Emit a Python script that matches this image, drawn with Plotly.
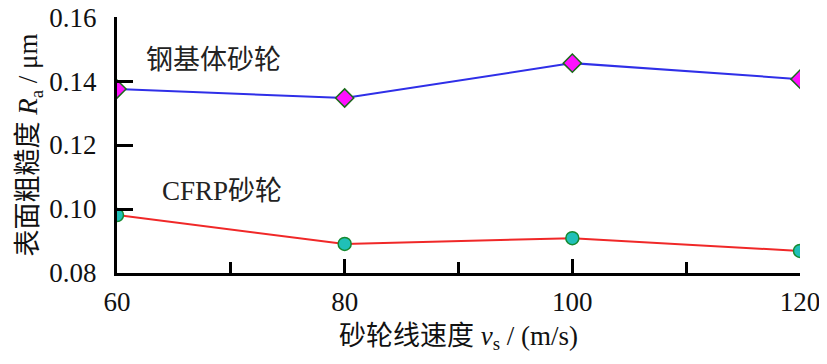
import plotly.graph_objects as go

speeds = [60, 80, 100, 120]
steel_ra = [0.1375, 0.1347, 0.1456, 0.1406]
cfrp_ra = [0.0981, 0.0891, 0.0909, 0.0869]
x_ticks = [60, 80, 100, 120]
y_ticks = [0.08, 0.10, 0.12, 0.14, 0.16]
y_tick_text = ["0.08", "0.10", "0.12", "0.14", "0.16"]

FONT = "Liberation Serif, Noto Sans CJK SC"
NUMFONT = "Liberation Serif"

fig = go.Figure()
fig.add_trace(go.Scatter(
    x=speeds, y=steel_ra, mode="lines+markers",
    line=dict(color="#2f2fe8", width=2),
    marker=dict(symbol="diamond", size=14, color="#ff10ff",
                line=dict(color="#1a6a1a", width=1.5)),
    showlegend=False))
fig.add_trace(go.Scatter(
    x=speeds, y=cfrp_ra, mode="lines+markers",
    line=dict(color="#f02828", width=2),
    marker=dict(symbol="circle", size=13, color="#20c0b8",
                line=dict(color="#158a30", width=1.5)),
    showlegend=False))

fig.add_annotation(x=0.04, y=0.1466, xref="paper", yref="y", text="钢基体砂轮",
                   showarrow=False, xanchor="left", yanchor="middle",
                   font=dict(family=FONT, size=27, color="#222"))
fig.add_annotation(x=0.063, y=0.1055, xref="paper", yref="y", text="CFRP砂轮",
                   showarrow=False, xanchor="left", yanchor="middle",
                   font=dict(family=FONT, size=27, color="#222"))

fig.update_layout(
    width=819, height=356,
    margin=dict(l=109, r=27, t=9, b=91),
    paper_bgcolor="white", plot_bgcolor="white",
    font=dict(family=FONT, size=27, color="#111"),
)
fig.update_xaxes(
    range=[60, 120], tickmode="array", tickvals=x_ticks, ticktext=[str(v) for v in x_ticks],
    ticks="inside", ticklen=14, tickwidth=3, automargin=False, ticklabelstandoff=3,
    tickcolor="black", showline=True, linecolor="black", linewidth=3,
    showgrid=False, zeroline=False, ticklabeloverflow="allow",
    minor=dict(tickvals=[70, 90, 110], ticks="inside", ticklen=11, tickwidth=3, tickcolor="black", showgrid=False),
    title=dict(text="砂轮线速度 <i>v</i><sub>s</sub> / (m/s)", standoff=10,
               font=dict(family=FONT, size=27, color="#111")),
    tickfont=dict(family=NUMFONT, size=27, color="#111"),
)
fig.update_yaxes(
    range=[0.08, 0.16002], tickmode="array", tickvals=y_ticks, ticktext=y_tick_text, ticks="inside",
    ticklen=16, tickwidth=3, tickcolor="black", showline=True, linecolor="black",
    linewidth=3, showgrid=False, zeroline=False, ticklabelstandoff=12, automargin=False,
    ticklabeloverflow="allow",
    title=dict(text="表面粗糙度 <i>R</i><sub>a</sub> / μm", standoff=4,
               font=dict(family=FONT, size=27, color="#111")),
    tickfont=dict(family=NUMFONT, size=27, color="#111"),
)

fig.write_html("out.html")
